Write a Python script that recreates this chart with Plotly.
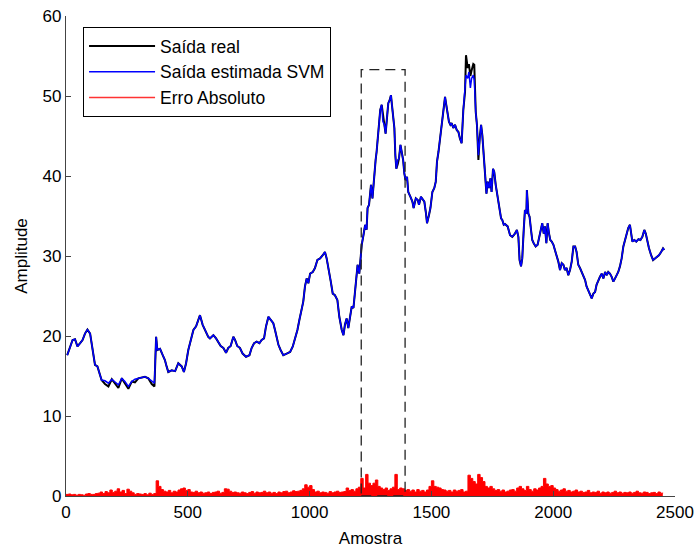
import plotly.graph_objects as go

# ---- data ----
amostra = [5,16,27,37,47,58,68,78,88,99,105,112,119,129,137,146,160,174,188,201,215,229,242,256,270,283,297,311,324,338,352,363,370,375,386,397,406,413,420,434,448,461,475,484,493,502,512,523,534,543,550,561,571,584,
           591,605,616,625,635,646,657,666,676,687,694,703,714,725,739,753,762,772,783,794,803,813,821,831,840,851,858,865,872,881,892,906,920,931,940,950,958,967,974,981,988,995,1002,1013,1022,1032,1043,1054,1063,1070,1077,1087,1095,1104,1114,1122,1132,1139,1145,1152,1159,1166,1173,1180,1186,1193,1197,1204,1210,1214,
           1221,1228,1234,1238,1244,1248,1252,1258,1262,1266,1271,1275,1280,1285,1290,1296,1301,1307,1312,1318,1323,1329,1334,1338,1344,1348,1352,1356,1362,1367,1373,1378,1384,1389,1394,1400,1405,1414,1422,1427,1436,1444,1449,1457,1466,1471,1477,1482,1490,1496,1504,1512,1518,1523,1529,1534,1539,1545,1550,1556,1561,1567,1572,1578,1583,1590,1597,1604,1611,1617,1624,1631,1638,1642,1649,1654,1660,1665,1672,1676,1682,1687,1693,1698,1704,1709,1715,1720,1726,1731,1737,1742,1747,1753,1758,1764,1769,1775,1780,1786,1791,1797,
           1802,1813,1823,1832,1843,1851,1857,1862,1868,1873,1879,1884,1890,1892,1898,1903,1909,1914,1920,1928,1936,1944,1950,1955,1961,1966,1972,1977,1983,1988,1994,2001,2007,2014,2021,2028,2035,2042,2048,2055,2062,2069,2076,2083,2090,2096,2103,2110,2117,2124,2131,2137,2144,2151,2158,2165,2172,2178,2185,2192,2199,2206,2213,2220,2226,2233,2240,2247,2254,2261,2267,2274,2281,2288,2295,2302,2308,2315,2319,2325,2333,2341,2350,2358,2366,2374,2380,2385,2393,2402,2410,2418,2426,2434,2443,2451,2456]

saida_estimada = [17.6,18.7,19.5,19.6,18.7,19.1,19.5,20.3,20.8,20.3,19.1,17.8,16.4,16.2,15.5,14.5,14.4,14.1,14.6,14.3,13.9,14.7,14.3,13.7,14.3,14.6,14.7,14.8,14.9,14.7,14.3,14.1,19.9,18.25,18.4,17.6,17.0,16.2,15.5,15.7,15.6,16.6,16.2,15.5,16.6,18.25,19.5,20.75,21.2,22.0,22.6,21.4,20.75,19.9,
                  19.7,20.1,19.7,19.3,18.75,18.5,17.9,18.5,18.75,19.9,19.5,18.75,18.5,17.8,17.4,17.6,18.5,19.1,19.3,19.1,19.5,19.7,21.2,22.4,22.0,21.6,20.75,19.7,18.9,18.25,17.6,17.8,18.0,18.7,19.7,20.75,22.0,23.25,24.3,26.2,27.2,26.6,27.8,28.0,28.5,29.5,29.7,30.1,30.5,29.7,28.25,26.8,25.3,25.1,24.5,22.4,20.75,20.1,21.4,22.2,21.0,22.4,23.7,23.5,25.3,27.0,28.9,27.8,30.3,31.4,
                  32.6,33.9,33.3,36.0,36.4,38.0,38.9,37.2,38.9,39.9,42.0,43.0,45.1,47.2,48.25,48.9,46.8,46.4,45.3,47.4,49.1,49.5,50.1,48.9,46.8,46.0,42.6,40.9,42.0,42.2,43.9,43.0,42.0,40.3,39.5,39.9,38.0,37.4,36.8,36.0,37.2,37.0,36.4,37.4,37.0,36.8,35.5,34.1,35.1,36.0,38.0,38.5,39.3,41.8,43.0,44.3,46.0,47.2,49.1,49.9,48.9,48.0,46.8,46.4,46.6,46.0,46.4,45.75,45.5,44.7,44.1,48.25,50.5,52.6,52.2,53.0,51.0,52.2,52.6,52.0,48.0,46.4,42.6,44.7,46.4,45.1,42.6,40.5,37.8,39.3,38.5,39.7,38.0,40.9,40.5,38.9,38.0,36.4,35.5,34.7,34.5,33.9,
                  34.0,33.7,32.6,32.4,32.8,33.25,32.4,29.5,28.7,29.7,33.25,35.75,35.3,38.25,35.3,34.9,33.25,32.0,31.6,31.2,31.4,32.4,33.25,34.1,32.8,33.7,31.6,34.1,32.8,32.0,31.8,31.4,30.75,30.1,29.3,28.25,29.1,28.9,28.25,28.5,27.6,28.25,29.3,31.2,31.2,30.5,28.9,28.5,28.0,27.6,27.0,26.2,25.75,25.1,24.7,25.3,25.5,26.4,27.0,27.4,27.8,27.2,28.0,27.6,28.0,27.8,27.4,26.8,27.2,27.6,28.0,28.7,29.7,31.2,32.0,32.8,33.5,33.9,33.25,31.8,32.0,31.8,32.1,32.0,32.4,33.25,32.8,32.0,31.0,30.1,29.5,29.7,29.9,30.1,30.5,30.95,30.75]

# real output where it differs visibly from the SVM estimate (sample -> value)
desvio_real = {160: 14.0, 174: 13.7, 201: 14.0, 215: 13.5, 242: 14.0, 256: 13.4, 283: 14.2,
               352: 14.0, 363: 13.7, 1301: 47.4, 1362: 41.5,
               1642: 55.1, 1649: 53.5, 1654: 54.0, 1660: 52.5, 1665: 53.2, 1672: 54.0, 1676: 53.9, 1693: 42.0}
saida_real = [desvio_real.get(a, v) for a, v in zip(amostra, saida_estimada)]

passo_erro = 10
erro_absoluto = [0.2,0.25,0.15,0.2,0.1,0.2,0.15,0.1,0.25,0.3,0.2,
                 0.2,0.3,0.35,0.5,0.3,0.55,0.4,0.75,0.45,0.6,
                 0.9,0.5,0.7,0.3,0.85,0.6,0.4,0.2,0.3,0.25,
                 0.2,0.3,0.15,0.35,0.2,0.3,1.9,1.2,0.8,0.6,
                 0.5,0.7,0.4,0.6,0.5,0.75,0.9,1.0,0.7,0.8,
                 0.5,0.45,0.6,0.4,0.5,0.35,0.4,0.5,0.3,0.45,
                 0.5,0.6,0.35,0.45,0.9,0.85,0.6,0.45,0.5,0.4,
                 0.35,0.5,0.4,0.3,0.45,0.55,0.35,0.5,0.4,0.45,
                 0.6,0.4,0.5,0.35,0.45,0.3,0.5,0.4,0.55,0.6,
                 0.4,0.5,0.65,0.55,0.6,0.7,0.9,1.4,1.1,1.3,
                 0.8,0.5,0.6,0.4,0.5,0.45,0.35,0.55,0.4,0.5,
                 0.6,0.45,0.5,0.55,1.0,0.7,0.8,0.6,0.9,1.1,
                 2.2,1.0,2.7,1.6,1.3,1.6,2.0,1.2,1.0,0.8,
                 1.0,0.7,0.9,1.1,2.7,0.8,1.0,0.9,0.7,0.8,
                 0.6,0.75,0.5,0.8,0.6,0.7,0.5,0.75,1.2,1.9,
                 1.2,1.1,1.0,0.8,0.75,0.6,0.7,0.5,0.75,0.6,
                 0.7,0.8,0.5,0.6,2.6,2.2,1.8,1.5,2.7,2.3,
                 1.8,1.2,1.0,1.2,0.9,0.7,0.8,0.6,0.75,0.5,
                 0.6,0.75,0.8,0.6,1.0,1.2,0.9,0.7,1.2,0.8,
                 0.6,0.9,0.75,1.0,1.2,2.2,1.5,1.2,1.3,1.0,
                 0.8,0.6,0.75,0.9,0.6,0.7,0.5,0.6,0.75,0.5,
                 0.6,0.45,0.5,0.7,0.4,0.5,0.45,0.6,0.35,0.5,
                 0.4,0.5,0.35,0.45,0.6,0.4,0.5,0.35,0.45,0.4,
                 0.5,0.35,0.45,0.6,0.4,0.35,0.5,0.45,0.3,0.4,
                 0.45,0.3,0.5,0.35,0.4]
amostra_erro = [i * passo_erro for i in range(len(erro_absoluto))]

# zoom window highlighted by the dashed box
janela_x = [1212, 1392]
janela_y = [0, 53.3]

x_ticks = [0, 500, 1000, 1500, 2000, 2500]
y_ticks = [0, 10, 20, 30, 40, 50, 60]

FAM = "Liberation Sans, Arial, sans-serif"
font = dict(family=FAM, size=17, color="black")

fig = go.Figure()
fig.add_trace(go.Scatter(x=amostra, y=saida_real, mode="lines", name="Saída real",
                         line=dict(color="black", width=2.0), legendgroup="a"))
fig.add_trace(go.Scatter(x=amostra, y=saida_estimada, mode="lines", name="Saída estimada SVM",
                         line=dict(color="#0000ff", width=1.5), legendgroup="b"))
fig.add_trace(go.Scatter(x=amostra_erro, y=erro_absoluto, mode="lines", name="Erro Absoluto",
                         line=dict(color="#ff0000", width=1, shape="hv"), fill="tozeroy",
                         fillcolor="#ff0000", legendgroup="c", showlegend=False))
# legend entry for the error series, drawn as a line like the original
fig.add_trace(go.Scatter(x=[None], y=[None], mode="lines", name="Erro Absoluto",
                         line=dict(color="#ff3333", width=1.5), legendgroup="c"))

fig.add_shape(type="rect", x0=janela_x[0], x1=janela_x[1], y0=janela_y[0], y1=janela_y[1],
              xref="x", yref="y", line=dict(color="#222222", width=1.3, dash="10px,6px"))

axis_common = dict(showgrid=False, zeroline=False, showline=True, linecolor="#444444", linewidth=1.2,
                   ticks="inside", ticklen=5, tickcolor="#444444", tickfont=font, mirror=False,
                   automargin=False)

fig.update_layout(
    width=697, height=550,
    margin=dict(l=66, r=22, t=16, b=54),
    paper_bgcolor="white", plot_bgcolor="white",
    font=font,
    showlegend=True,
    legend=dict(x=0.028, y=0.977, xanchor="left", yanchor="top",
                bgcolor="white", bordercolor="black", borderwidth=1,
                font=dict(family=FAM, size=17.5, color="black"),
                traceorder="grouped", tracegroupgap=0, itemwidth=66),
    xaxis=dict(range=[0, 2500], tickvals=x_ticks,
               title=dict(text="Amostra", font=font, standoff=11), **axis_common),
    yaxis=dict(range=[0, 60], tickvals=y_ticks,
               title=dict(text="Amplitude", font=font, standoff=10), **axis_common),
)

# remove the browser's default 8px page margin so the figure sits at the window's corner
fig.write_html("out.html", config={"displayModeBar": False},
               post_script="document.body.style.margin='0';")
